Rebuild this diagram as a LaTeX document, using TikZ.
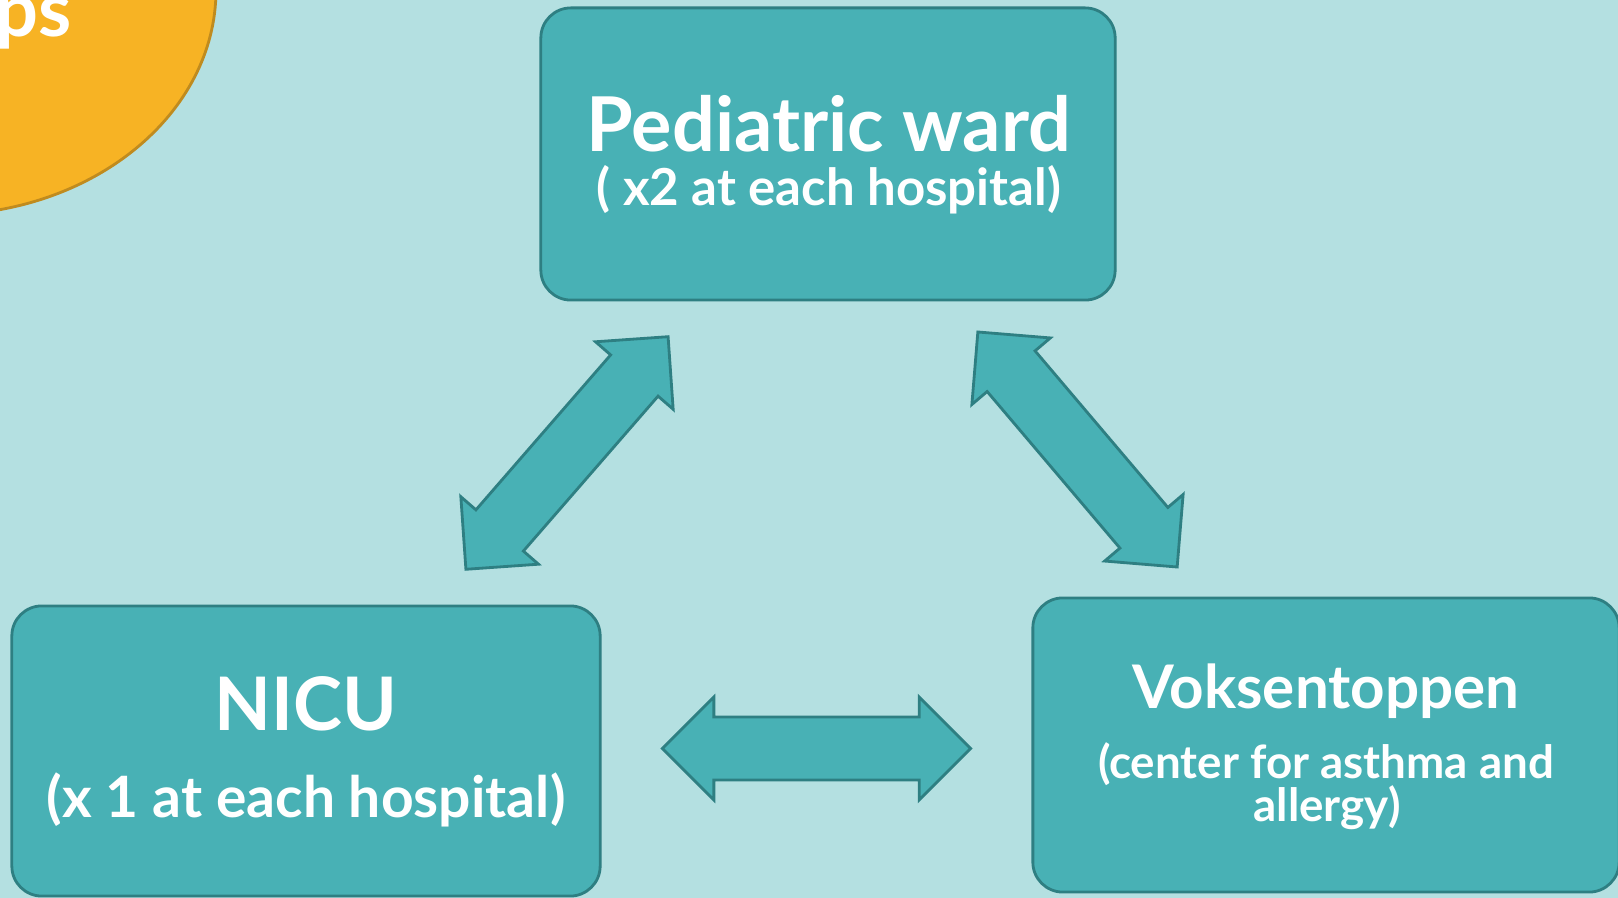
\documentclass[tikz,border=0pt]{standalone}
\usepackage{fontspec}
\setmainfont{Lato}
\usetikzlibrary{shapes.arrows}
\definecolor{bgteal}{HTML}{B4E0E1}
\definecolor{boxteal}{HTML}{48B1B5}
\definecolor{edgeteal}{HTML}{2E7F82}
\definecolor{sunny}{HTML}{F7B324}
\definecolor{sunnyedge}{HTML}{C08B1E}
\begin{document}
\begin{tikzpicture}[x=0.01cm,y=-0.01cm]
\tikzset{
    ward/.style={draw=edgeteal, fill=boxteal, line width=0.8pt, rounded corners=0.3cm, inner sep=0pt},
    label/.style={anchor=base, text=white, inner sep=0pt},
    link/.style={double arrow, draw=edgeteal, fill=boxteal, line width=0.8pt, minimum height=3.08cm, inner sep=0.3cm, double arrow head extend=0.2cm}
}
\useasboundingbox (0,0) rectangle (1618,898);
\clip (0,0) rectangle (1618,898);
\fill[bgteal] (0,0) rectangle (1618,898);

\draw[sunnyedge, fill=sunny, line width=0.8pt] (-60,-10) ellipse [x radius=276, y radius=225];
\draw node[label, anchor=base east, font=\bfseries\fontsize{21.5}{24}\selectfont] (grp) at (72,37) {ps};

\draw node[ward, minimum width=5.74cm, minimum height=2.92cm] (ped) at (828,154) {};
\draw node[ward, minimum width=5.88cm, minimum height=2.90cm] (nicu) at (306,751) {};
\draw node[ward, minimum width=5.86cm, minimum height=2.94cm] (voks) at (1326,745) {};

\draw node[label, font=\bfseries\fontsize{21.5}{24}\selectfont] (pedtitle) at (829,152) {Pediatric ward};
\draw node[label, font=\bfseries\fontsize{14.5}{17}\selectfont] (pedsub) at (829,206) {( x2 at each hospital)};
\draw node[label, font=\bfseries\fontsize{21}{24}\selectfont] (nicutitle) at (306,731) {NICU};
\draw node[label, font=\bfseries\fontsize{16.2}{19}\selectfont] (nicusub) at (306,818) {(x 1 at each hospital)};
\draw node[label, font=\bfseries\fontsize{17.1}{20}\selectfont] (vokstitle) at (1326,709) {Voksentoppen};
\draw node[label, font=\bfseries\fontsize{13}{15}\selectfont] (vokssub) at (1326,779) {(center for asthma and};
\draw node[label, font=\bfseries\fontsize{13}{15}\selectfont] (vokssubb) at (1327,822) {allergy)};

\draw node[link, rotate=49] (pednicu) at (567,453) {};
\draw node[link, rotate=-49.7] (pedvoks) at (1077.5,449.5) {};
\draw node[link] (nicuvoks) at (816.5,748.5) {};
\end{tikzpicture}
\end{document}
